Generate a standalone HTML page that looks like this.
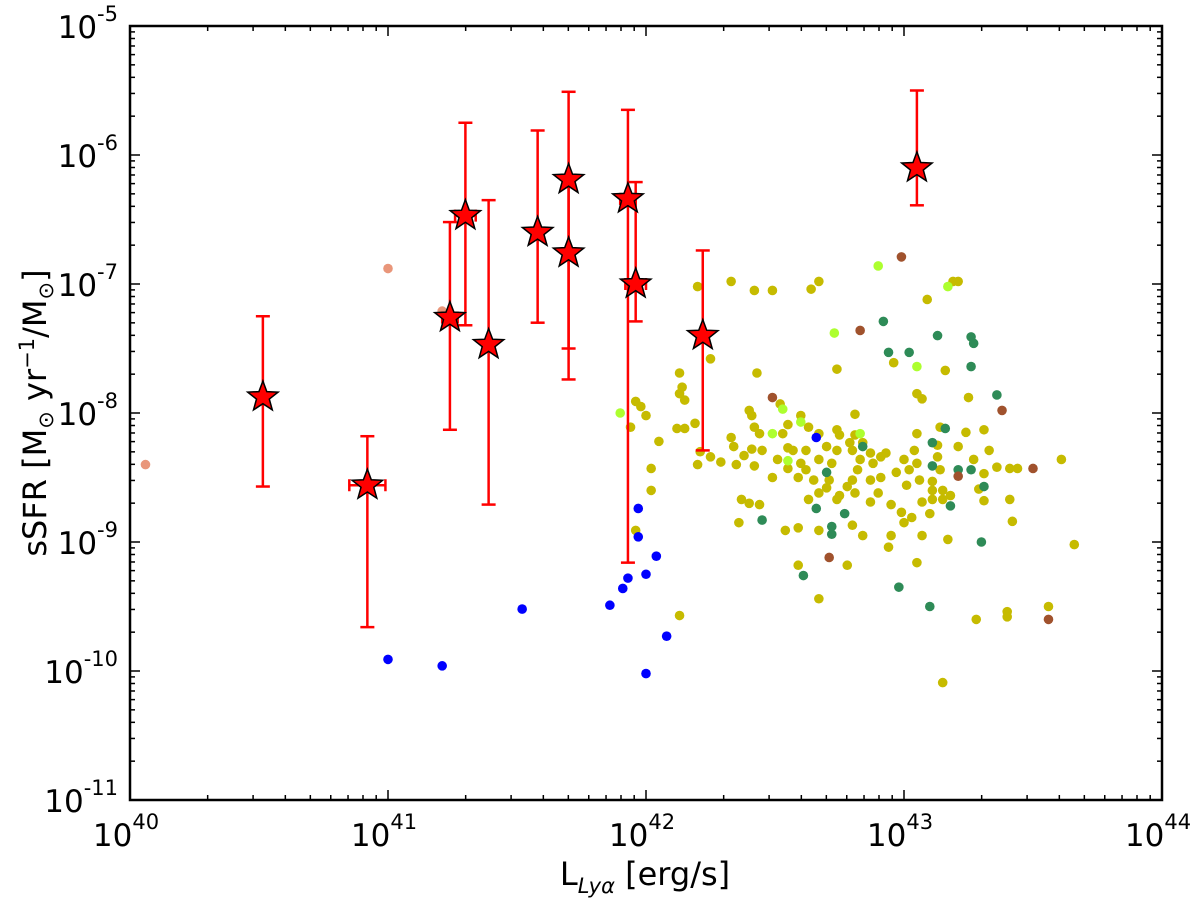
<!DOCTYPE html>
<html><head><meta charset="utf-8">
<style>
html,body{margin:0;padding:0;background:#fff;}
svg{display:block;font-family:"DejaVu Sans","Liberation Sans",sans-serif;}
</style></head>
<body>
<svg id="chart" width="1200" height="900" viewBox="0 0 1200 900" xmlns="http://www.w3.org/2000/svg">
<g id="marks"></g>
<g id="axes"></g>
</svg>
<script>
// Data in log10 units
const xTicks=[40,41,42,43,44];
const yTicks=[-11,-10,-9,-8,-7,-6,-5];
const starL=[40.515,40.92,41.24,41.30,41.39,41.58,41.70,41.70,41.93,41.96,42.22,43.05];
const starS=[-7.876,-8.56,-7.26,-6.47,-7.47,-6.60,-6.19,-6.76,-6.34,-7.00,-7.40,-6.10];
const starErrHi=[-7.25,-8.18,-6.52,-5.75,-6.35,-5.81,-5.51,-6.21,-5.65,-6.21,-6.74,-5.50];
const starErrLo=[-8.57,-9.66,-8.13,-7.32,-8.71,-7.30,-7.50,-7.74,-9.16,-7.29,-8.29,-6.39];
const starXErr=[0,0.07,0.03,0.04,0,0,0,0,0.03,0.04,0,0];
const yellowL=[42.33,42.42,42.49,42.64,42.67,43.09,43.19,43.21,42.20,42.25,42.13,42.14,42.13,42.15,41.96,41.98,42.00,41.94,42.05,42.02,42.02,41.96,42.13,42.12,42.15,42.19,42.21,42.25,42.29,42.20,42.35,42.33,42.34,42.40,42.41,42.43,42.42,42.44,42.38,42.41,42.45,42.42,42.49,42.51,42.52,42.55,42.53,42.60,42.63,42.67,42.55,42.57,42.62,42.60,42.55,42.59,42.62,42.65,42.67,42.70,42.74,42.75,42.74,42.72,42.71,42.70,42.67,42.63,42.74,42.75,42.78,42.80,42.82,42.83,42.80,42.79,42.81,42.81,42.84,42.87,42.88,42.87,42.91,42.91,42.93,42.90,42.87,42.81,42.80,42.84,42.95,42.97,43.00,43.01,42.99,43.00,42.95,42.94,43.03,43.05,43.04,43.05,43.02,43.06,43.07,43.10,43.07,43.11,43.11,43.11,43.15,43.15,43.18,43.14,43.13,43.14,43.13,43.21,43.24,43.27,43.31,43.33,43.31,43.29,43.31,43.36,43.41,43.44,43.41,43.42,43.17,43.61,43.66,43.05,43.07,43.25,43.16,42.96,42.74,43.05,42.78,42.67,42.59,42.54,42.59,42.67,42.36,42.37,42.40,42.44,43.28,43.40,43.40,43.56,43.15];
const yellowS=[-6.98,-7.05,-7.05,-7.04,-6.98,-7.12,-6.98,-6.98,-7.02,-7.58,-7.69,-7.80,-7.85,-7.90,-7.91,-7.95,-8.02,-8.11,-8.22,-8.43,-8.60,-8.91,-9.57,-8.12,-8.12,-8.08,-8.30,-8.34,-8.38,-8.40,-8.40,-8.19,-8.26,-7.98,-8.02,-7.69,-8.11,-8.16,-8.33,-8.28,-8.29,-8.41,-8.50,-8.36,-7.93,-8.09,-8.16,-8.02,-8.11,-8.16,-8.27,-8.29,-8.29,-8.39,-8.43,-8.50,-8.44,-8.52,-8.36,-8.26,-8.13,-8.17,-8.29,-8.39,-8.52,-8.58,-8.62,-8.67,-8.67,-8.64,-8.57,-8.52,-8.44,-8.36,-8.29,-8.23,-8.17,-8.01,-8.23,-8.31,-8.39,-8.52,-8.34,-8.50,-8.31,-8.62,-8.69,-8.62,-8.87,-8.95,-8.71,-8.46,-8.36,-8.56,-8.77,-8.85,-8.95,-9.04,-8.81,-8.16,-8.29,-8.39,-8.44,-8.52,-8.69,-8.78,-8.95,-8.53,-8.60,-8.67,-8.60,-8.67,-8.64,-8.44,-8.34,-8.11,-8.25,-8.26,-8.15,-8.36,-8.13,-8.29,-8.47,-8.59,-8.68,-8.42,-8.43,-8.43,-8.67,-8.84,-8.98,-8.36,-9.02,-7.85,-7.89,-7.88,-7.67,-7.61,-7.66,-9.16,-9.18,-9.44,-9.18,-8.91,-8.89,-8.91,-8.85,-8.67,-8.70,-8.71,-9.60,-9.54,-9.58,-9.50,-10.09];
const tealL=[42.92,43.13,42.94,43.02,43.26,43.27,43.26,43.36,43.16,43.11,43.11,43.21,43.26,43.31,43.18,42.84,42.70,42.66,42.77,42.45,42.72,42.72,43.30,42.61,42.98,43.10];
const tealS=[-7.29,-7.40,-7.53,-7.53,-7.41,-7.46,-7.64,-7.86,-8.12,-8.23,-8.41,-8.44,-8.44,-8.57,-8.72,-8.26,-8.46,-8.74,-8.78,-8.83,-8.88,-8.94,-9.00,-9.26,-9.35,-9.50];
const limeL=[42.90,42.73,43.05,43.17,41.90,42.53,42.60,42.49,42.83,42.55];
const limeS=[-6.86,-7.38,-7.64,-7.02,-8.00,-7.97,-8.07,-8.16,-8.16,-8.37];
const brownL=[42.99,42.83,42.49,43.38,43.50,43.21,42.71,43.56];
const brownS=[-6.79,-7.36,-7.88,-7.98,-8.43,-8.49,-9.12,-9.60];
const salmonL=[40.06,41.00,41.21];
const salmonS=[-8.40,-6.88,-7.21];
const blueL=[41.00,41.21,41.52,41.86,41.91,41.93,41.97,41.97,42.00,42.04,42.08,42.00,42.66];
const blueS=[-9.91,-9.96,-9.52,-9.49,-9.36,-9.28,-8.74,-8.96,-9.25,-9.11,-9.73,-10.02,-8.19];

const NS='http://www.w3.org/2000/svg';
const X0=130,X1=1162,Y0=26,Y1=800;
const xMin=40,xMax=44,yMin=-11,yMax=-5;
function sx(v){return X0+(v-xMin)/(xMax-xMin)*(X1-X0);}
function sy(v){return Y1-(v-yMin)/(yMax-yMin)*(Y1-Y0);}
function mk(tag,attrs,parent){const e=document.createElementNS(NS,tag);for(const k in attrs)e.setAttribute(k,attrs[k]);parent.appendChild(e);return e;}
const marks=document.getElementById('marks');
const axes=document.getElementById('axes');

function dots(Ls,Ss,color,name){
  const g=mk('g',{},marks);
  
  
  for(let i=0;i<Ls.length;i++){
    const c=mk('circle',{cx:sx(Ls[i]),cy:sy(Ss[i]),r:4.8,fill:color},g);
    
    
  }
}
dots(salmonL,salmonS,'#e9967a','salmon');
dots(yellowL,yellowS,'#c6bb00','yellow');
dots(tealL,tealS,'#2e8b57','teal');
dots(limeL,limeS,'#adff2f','lime');
dots(brownL,brownS,'#a0522d','brown');
dots(blueL,blueS,'#0000ff','blue');

const eg=mk('g',{stroke:'#ff0000','stroke-width':2.5,fill:'none'},marks);


for(let i=0;i<starL.length;i++){
  const x=sx(starL[i]),yh=sy(starErrHi[i]),yl=sy(starErrLo[i]);
  mk('line',{x1:x,x2:x,y1:yh,y2:yl},eg);
  mk('line',{x1:x-7,x2:x+7,y1:yh,y2:yh},eg);
  mk('line',{x1:x-7,x2:x+7,y1:yl,y2:yl},eg);
  if(starXErr[i]>0){
    const xa=sx(starL[i]-starXErr[i]),xb=sx(starL[i]+starXErr[i]),y=sy(starS[i]);
    mk('line',{x1:xa,x2:xb,y1:y,y2:y},eg);
    mk('line',{x1:xa,x2:xa,y1:y-6,y2:y+6},eg);
    mk('line',{x1:xb,x2:xb,y1:y-6,y2:y+6},eg);
  }
}
const sg=mk('g',{},marks);


function starPath(cx,cy,R){let r=R*0.42,p='';for(let k=0;k<10;k++){const a=-Math.PI/2+k*Math.PI/5;const rr=k%2?r:R;p+=(k?'L':'M')+(cx+rr*Math.cos(a)).toFixed(1)+' '+(cy+rr*Math.sin(a)).toFixed(1);}return p+'Z';}
for(let i=0;i<starL.length;i++){
  const s=mk('path',{d:starPath(sx(starL[i]),sy(starS[i]),16),fill:'#ff0000',stroke:'#000','stroke-width':1.5},sg);
  
  
}

const fr=mk('rect',{x:X0,y:Y0,width:X1-X0,height:Y1-Y0,fill:'none',stroke:'#000','stroke-width':2.5},axes);


const tg=mk('g',{stroke:'#000','stroke-width':1.5},axes);


for(let d=xMin;d<xMax;d++){for(let m=1;m<10;m++){const v=d+Math.log10(m);const x=sx(v);const len=m===1?10:5;
  if(m===1&&d===xMin)continue;
  mk('line',{x1:x,x2:x,y1:Y1,y2:Y1-len},tg);mk('line',{x1:x,x2:x,y1:Y0,y2:Y0+len},tg);}}
for(let d=yMin;d<yMax;d++){for(let m=1;m<10;m++){const v=d+Math.log10(m);const y=sy(v);const len=m===1?10:5;
  if(m===1&&d===yMin)continue;
  mk('line',{x1:X0,x2:X0+len,y1:y,y2:y},tg);mk('line',{x1:X1,x2:X1-len,y1:y,y2:y},tg);}}
xTicks.forEach(t=>{
  const tx=mk('text',{x:sx(t)-4,y:Y1+46,'font-size':31,'text-anchor':'middle',fill:'#000'},axes);
  
  
  tx.textContent='10';
  const sp=mk('tspan',{dy:-17,'font-size':21},tx);sp.textContent=String(t);
});
yTicks.forEach(t=>{
  const tx=mk('text',{x:118,y:sy(t)+12,'font-size':31,'text-anchor':'end',fill:'#000'},axes);
  
  
  tx.textContent='10';
  const sp=mk('tspan',{dy:-17,'font-size':21},tx);sp.textContent=String(t);
});
</script>
<script>
(function(){
const svg=document.getElementById('chart');const NS='http://www.w3.org/2000/svg';
const xt=document.createElementNS(NS,'text');
xt.setAttribute('x','645');xt.setAttribute('y','885');xt.setAttribute('font-size','32');xt.setAttribute('text-anchor','middle');


xt.innerHTML='L<tspan font-size="21" font-style="italic" dy="8">Lyα</tspan><tspan dy="-8"> [erg/s]</tspan>';
svg.appendChild(xt);
const yt=document.createElementNS(NS,'text');
yt.setAttribute('transform','translate(46,413) rotate(-90)');yt.setAttribute('font-size','32');yt.setAttribute('text-anchor','middle');


yt.innerHTML='sSFR [M<tspan font-size="21" dy="7">⊙</tspan><tspan dy="-7"> yr</tspan><tspan font-size="21" dy="-12">−1</tspan><tspan dy="12">/M</tspan><tspan font-size="21" dy="7">⊙</tspan><tspan dy="-7">]</tspan>';
svg.appendChild(yt);
})();
</script>
</body></html>
